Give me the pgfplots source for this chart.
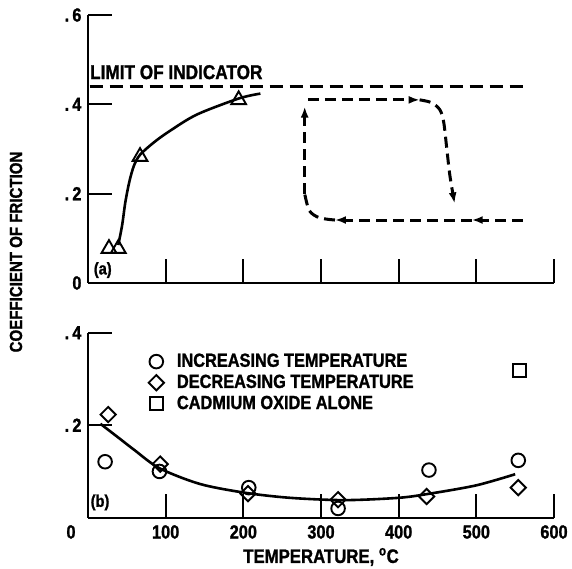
\documentclass[border=0pt]{standalone}
\usepackage{fontspec}
\setmainfont{Liberation Sans}[FakeStretch=0.86, BoldFeatures={FakeBold=1.2}]
\usepackage{pgfplots}
\pgfplotsset{compat=1.18}
\usetikzlibrary{arrows.meta}
\begin{document}
\bfseries\fontsize{19}{22}\selectfont
\begin{tikzpicture}
\path[use as bounding box] (-88pt,-286pt) rectangle (484pt,283pt);
\pgfplotsset{
  panel/.style={
    scale only axis, width=466pt, xmin=0, xmax=600, ymin=0,
    axis x line*=bottom, axis y line*=left,
    axis line style={line width=2.4pt},
    tick style={line width=2pt, black},
    tick align=inside, major tick length=24pt,
    clip=false,
    tick label style={font=\bfseries\fontsize{19}{22}\selectfont},
  },
  dsh/.style={line width=3pt, dash pattern=on 11pt off 6pt},
  arr/.style={-{Latex[length=11pt,width=8pt]}},
}
% ---------------- panel (a)
\begin{axis}[panel, at={(0pt,0pt)}, anchor=south west, height=268pt, ymax=0.6,
  xtick={100,200,...,600}, xticklabels={},
  ytick={0,0.2,0.4,0.6}, yticklabels={0,{.\,2},{.\,4},{.\,6}}]
\addplot[smooth, line width=2.6pt] coordinates {
 (39,0.085)(44,0.13)(48,0.18)(53,0.225)(59,0.262)(67,0.287)(85,0.315)
 (105,0.340)(140,0.377)(194,0.413)(222,0.424)};
\addplot[only marks, mark=triangle, mark size=8.5pt, mark options={line width=1.9pt}]
 coordinates {(27,0.077)(39,0.077)(67,0.283)(194,0.41)};
% limit of indicator
\addplot[line width=3pt, dash pattern=on 13pt off 7pt] coordinates {(2,0.439)(560,0.439)};
\node[anchor=west, inner sep=0pt, font=\bfseries\fontsize{20}{23}\selectfont] at (axis cs:2.5,0.472) {LIMIT OF INDICATOR};
% loop
\addplot[dsh, arr] coordinates {(279,0.20)(279,0.395)};
\addplot[dsh, arr] coordinates {(283,0.41)(427,0.41)};
\addplot[dsh, arr, smooth] coordinates {(427,0.41)(442,0.404)(453,0.388)(458,0.36)(462,0.30)(466,0.24)(472,0.178)};
\addplot[dsh, arr] coordinates {(560,0.141)(494,0.141)};
\addplot[dsh, arr] coordinates {(494,0.141)(318,0.141)};
\addplot[dsh, smooth] coordinates {(318,0.141)(298,0.146)(285,0.162)(279,0.20)};
\node[font=\bfseries\fontsize{17}{20}\selectfont, inner sep=0pt] at (axis cs:19,0.029) {(a)};
\end{axis}
% ---------------- panel (b)
\begin{axis}[panel, at={(0pt,-234.7pt)}, anchor=south west, height=185pt, ymax=0.4,
  xtick={100,200,...,600}, xticklabels={100,200,300,400,500,600},
  extra x ticks={0}, extra x tick labels={0},
  extra x tick style={major tick length=0pt, xticklabel style={xshift=-17pt}},
  xticklabel style={yshift=-1pt},
  ytick={0.2,0.4}, yticklabels={{.\,2},{.\,4}},
  legend style={draw=none, fill=none, at={(axis cs:74,0.364)}, anchor=north west,
    font=\bfseries\fontsize{19}{22}\selectfont, row sep=1pt, column sep=11pt},
  legend cell align=left]
\addplot[smooth, line width=2.6pt, forget plot] coordinates {
 (16,0.203)(40,0.172)(60,0.146)(92,0.107)(144,0.073)(202,0.054)(260,0.043)
 (330,0.038)(400,0.043)(440,0.052)(500,0.07)(550,0.094)};
\addplot[only marks, mark=o, mark size=6.8pt, mark options={line width=1.9pt}]
 coordinates {(22,0.121)(92,0.100)(207,0.065)(322,0.020)(439,0.103)(554,0.124)};
\addlegendentry{INCREASING TEMPERATURE}
\addplot[only marks, mark=square, mark size=5.4pt, mark options={rotate=45, line width=1.9pt}]
 coordinates {(26,0.223)(93,0.116)(206,0.052)(322,0.039)(436,0.046)(554,0.065)};
\addlegendentry{DECREASING TEMPERATURE}
\addplot[only marks, mark=square, mark size=6.5pt, mark options={line width=1.9pt}]
 coordinates {(555,0.319)};
\addlegendentry{CADMIUM OXIDE ALONE}
\node[font=\bfseries\fontsize{17}{20}\selectfont, inner sep=0pt] at (axis cs:15.5,0.033) {(b)};
\end{axis}
\node[rotate=90, font=\bfseries\fontsize{17.5}{20}\selectfont] at (-72pt,31pt) {COEFFICIENT OF FRICTION};
\node[font=\bfseries\fontsize{19.5}{22}\selectfont, inner sep=1pt] at (233pt,-274pt) {TEMPERATURE, \textsuperscript{o}C};
\end{tikzpicture}
\end{document}
